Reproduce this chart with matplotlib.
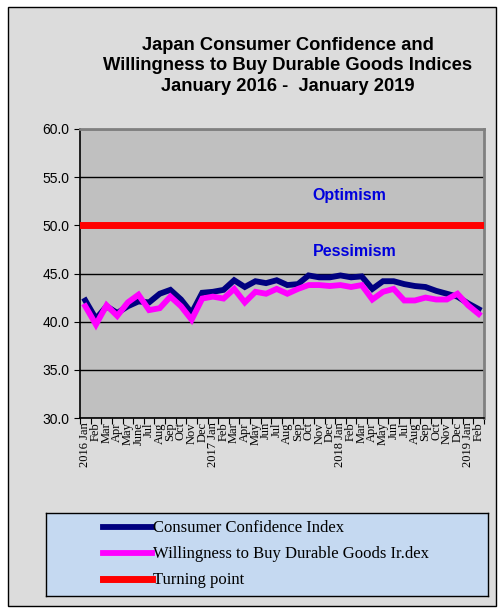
import numpy as np
import matplotlib
matplotlib.use('Agg')
import matplotlib.pyplot as plt
from matplotlib.patches import Rectangle

# month labels, Jan 2016 .. Feb 2019
labels = ['2016 Jan', 'Feb', 'Mar', 'Apr', 'May', 'June', 'Jul', 'Aug', 'Sep', 'Oct', 'Nov', 'Dec',
          '2017 Jan', 'Feb', 'Mar', 'Apr', 'May', 'Jun', 'Jul', 'Aug', 'Sep', 'Oct', 'Nov', 'Dec',
          '2018 Jan', 'Feb', 'Mar', 'Apr', 'May', 'Jun', 'Jul', 'Aug', 'Sep', 'Oct', 'Nov', 'Dec',
          '2019 Jan', 'Feb']

confidence = [42.2, 40.3, 41.6, 40.9, 41.6, 42.1, 42.0, 42.9, 43.3, 42.3, 40.9, 43.0,
              43.1, 43.3, 44.3, 43.6, 44.2, 44.0, 44.3, 43.8, 43.9, 44.8, 44.6, 44.6,
              44.8, 44.6, 44.7, 43.4, 44.2, 44.2, 43.9, 43.7, 43.6, 43.2, 42.9, 42.6,
              41.9, 41.3]

durable = [41.6, 39.7, 41.7, 40.6, 42.0, 42.8, 41.2, 41.4, 42.6, 41.6, 40.2, 42.4,
           42.6, 42.4, 43.4, 42.0, 43.1, 42.9, 43.4, 42.9, 43.4, 43.8, 43.8, 43.7,
           43.8, 43.6, 43.8, 42.3, 43.1, 43.4, 42.2, 42.2, 42.5, 42.3, 42.3, 42.9,
           41.7, 40.8]

turning = 50.0

W, H = 501, 610
fig = plt.figure(figsize=(W / 100, H / 100), dpi=100)
fig.patch.set_facecolor('white')

# outer frame of the chart
fig.patches.append(Rectangle((8 / W, 1 - 606 / H), 488 / W, 599 / H, transform=fig.transFigure,
                             facecolor='#dcdcdc', edgecolor='black', linewidth=1.0, zorder=-5))

ax = fig.add_axes([80 / W, 1 - 418 / H, 404 / W, 289 / H])
ax.set_facecolor('#c0c0c0')

x = np.arange(len(labels))
ax.set_xlim(-0.5, len(labels) - 0.5)
ax.set_ylim(30, 60)
ax.set_yticks(np.arange(30, 61, 5))
ax.set_yticklabels([f'{v:.1f}' for v in np.arange(30, 61, 5)], family='Liberation Sans', fontsize=10)
ax.yaxis.grid(True, color='black', linewidth=1.0)
ax.set_axisbelow(True)

l1, = ax.plot(x, confidence, color='#000080', linewidth=4.2, solid_joinstyle='miter', zorder=3)
l2, = ax.plot(x, durable, color='#ff00ff', linewidth=4.2, solid_joinstyle='miter', zorder=4)
l3, = ax.plot([-0.5, len(labels) - 0.5], [turning, turning], color='#ff0000', linewidth=5, zorder=5)

ax.text(24.8, 53.1, 'Optimism', color='#0000dd', fontsize=11.5, fontweight='bold',
        family='Liberation Sans', ha='center', va='center')
ax.text(25.3, 47.3, 'Pessimism', color='#0000dd', fontsize=11.5, fontweight='bold',
        family='Liberation Sans', ha='center', va='center')

ax.set_xticks(np.arange(-0.5, len(labels), 1), minor=False)
ax.set_xticklabels([])
ax.set_xticks(x, minor=True)
ax.set_xticklabels(labels, minor=True, rotation=90, family='Liberation Serif', fontsize=9)
ax.tick_params(axis='x', which='minor', length=0, pad=3)
ax.tick_params(axis='x', which='major', length=4, direction='out', color='black')
ax.tick_params(axis='y', length=4, direction='out', color='black')

for side in ['top', 'right']:
    ax.spines[side].set_color('#808080')
    ax.spines[side].set_linewidth(2)
ax.spines['left'].set_color('black')
ax.spines['bottom'].set_color('black')
ax.spines['left'].set_linewidth(1.2)
ax.spines['bottom'].set_linewidth(1.2)

fig.text(0.574, 1 - 66 / H, 'Japan Consumer Confidence and\nWillingness to Buy Durable Goods Indices\nJanuary 2016 -  January 2019',
         ha='center', va='center', fontsize=13.2, fontweight='bold', family='Liberation Sans',
         linespacing=1.27)

# legend
leg_ax = fig.add_axes([46 / W, 1 - 596 / H, 442 / W, 83 / H])
leg_ax.set_facecolor('#c5d9f1')
leg_ax.set_xticks([])
leg_ax.set_yticks([])
for s in leg_ax.spines.values():
    s.set_color('black')
    s.set_linewidth(1)
leg = leg_ax.legend([l1, l2, l3],
                    ['Consumer Confidence Index', 'Willingness to Buy Durable Goods Ir.dex', 'Turning point'],
                    loc='center left', bbox_to_anchor=(0.13, 0.5), frameon=False,
                    prop={'family': 'Liberation Serif', 'size': 12}, handlelength=2.9,
                    handletextpad=0.1, labelspacing=0.6, borderpad=0, borderaxespad=0)

fig.savefig('out.png', dpi=100, facecolor=fig.get_facecolor())
